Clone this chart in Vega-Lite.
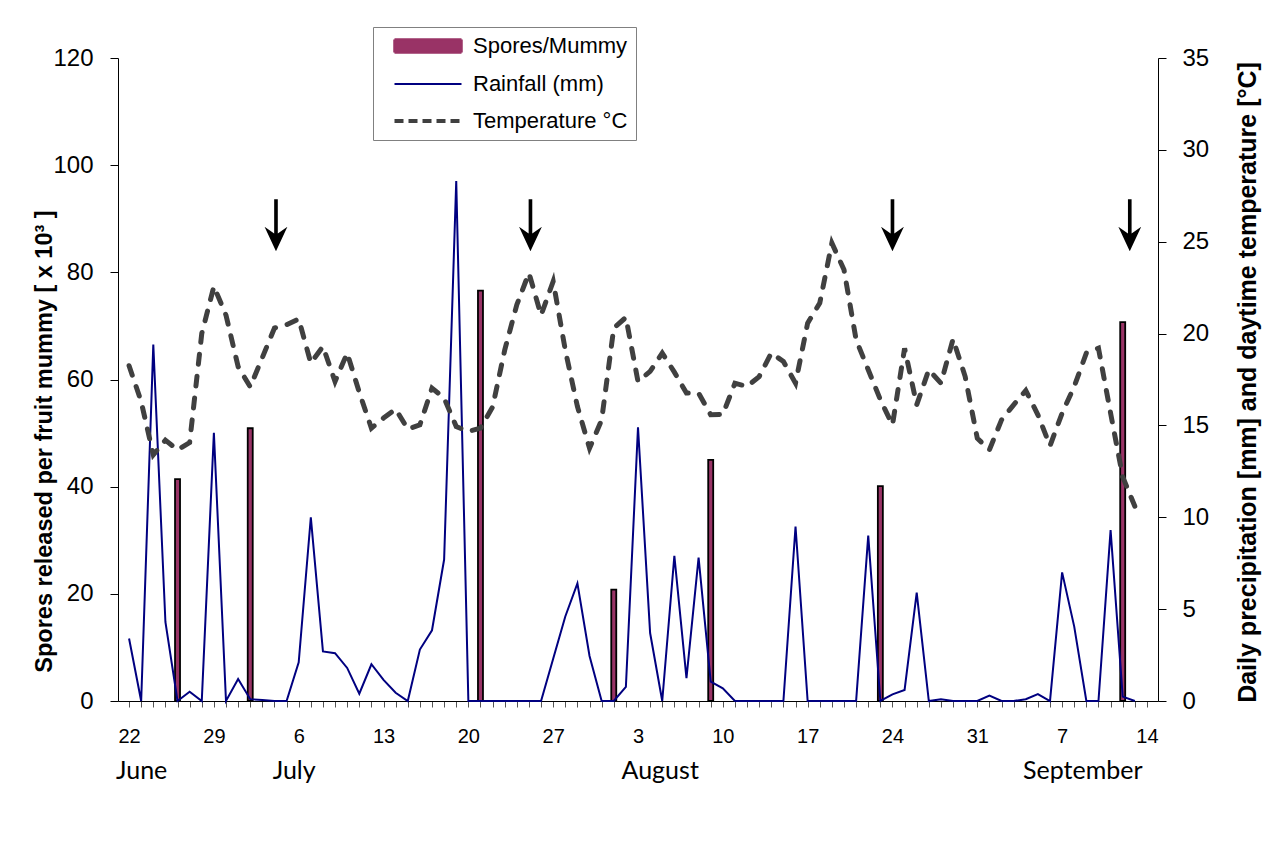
{
  "$schema": "https://vega.github.io/schema/vega-lite/v6.json",
  "width": 1040,
  "height": 643,
  "autosize": {"type": "none"},
  "padding": {"left": 118, "top": 58, "right": 130, "bottom": 164},
  "background": "white",
  "config": {
    "view": {"stroke": null},
    "font": "Liberation Sans",
    "axis": {"grid": false, "domainColor": "#000000", "tickColor": "#000000", "labelColor": "#000000", "titleColor": "#000000", "domainWidth": 1, "tickWidth": 1}
  },
  "datasets": {
    "daily": [
      {"date": "2010-06-22", "rain": 3.4, "temp": 18.25},
      {"date": "2010-06-23", "rain": 0, "temp": 16.3},
      {"date": "2010-06-24", "rain": 19.4, "temp": 13.4},
      {"date": "2010-06-25", "rain": 4.3, "temp": 14.2},
      {"date": "2010-06-26", "rain": 0, "temp": 13.67},
      {"date": "2010-06-27", "rain": 0.5, "temp": 14.07},
      {"date": "2010-06-28", "rain": 0, "temp": 20.0},
      {"date": "2010-06-29", "rain": 14.6, "temp": 22.57},
      {"date": "2010-06-30", "rain": 0, "temp": 21.0},
      {"date": "2010-07-01", "rain": 1.2, "temp": 18.2},
      {"date": "2010-07-02", "rain": 0.1, "temp": 17.1},
      {"date": "2010-07-03", "rain": 0.05, "temp": 18.7},
      {"date": "2010-07-04", "rain": 0, "temp": 20.3},
      {"date": "2010-07-05", "rain": 0, "temp": 20.48},
      {"date": "2010-07-06", "rain": 2.1, "temp": 20.8},
      {"date": "2010-07-07", "rain": 10.0, "temp": 18.39},
      {"date": "2010-07-08", "rain": 2.7, "temp": 19.3},
      {"date": "2010-07-09", "rain": 2.6, "temp": 17.39},
      {"date": "2010-07-10", "rain": 1.8, "temp": 18.94},
      {"date": "2010-07-11", "rain": 0.4, "temp": 16.8},
      {"date": "2010-07-12", "rain": 2.0, "temp": 14.85},
      {"date": "2010-07-13", "rain": 1.15, "temp": 15.4},
      {"date": "2010-07-14", "rain": 0.45, "temp": 15.89},
      {"date": "2010-07-15", "rain": 0, "temp": 14.8},
      {"date": "2010-07-16", "rain": 2.8, "temp": 15.03},
      {"date": "2010-07-17", "rain": 3.85, "temp": 17.03},
      {"date": "2010-07-18", "rain": 7.7, "temp": 16.49},
      {"date": "2010-07-19", "rain": 28.3, "temp": 14.94},
      {"date": "2010-07-20", "rain": 0, "temp": 14.67},
      {"date": "2010-07-21", "rain": 0, "temp": 14.85},
      {"date": "2010-07-22", "rain": 0, "temp": 16.0},
      {"date": "2010-07-23", "rain": 0, "temp": 19.1},
      {"date": "2010-07-24", "rain": 0, "temp": 21.57},
      {"date": "2010-07-25", "rain": 0, "temp": 23.3},
      {"date": "2010-07-26", "rain": 0, "temp": 21.0},
      {"date": "2010-07-27", "rain": 2.3, "temp": 22.84},
      {"date": "2010-07-28", "rain": 4.6, "temp": 19.1},
      {"date": "2010-07-29", "rain": 6.4, "temp": 16.03},
      {"date": "2010-07-30", "rain": 2.45, "temp": 13.76},
      {"date": "2010-07-31", "rain": 0, "temp": 15.3},
      {"date": "2010-08-01", "rain": 0, "temp": 20.3},
      {"date": "2010-08-02", "rain": 0.77, "temp": 20.88},
      {"date": "2010-08-03", "rain": 14.9, "temp": 17.39},
      {"date": "2010-08-04", "rain": 3.7, "temp": 17.94},
      {"date": "2010-08-05", "rain": 0, "temp": 18.94},
      {"date": "2010-08-06", "rain": 7.9, "temp": 17.9},
      {"date": "2010-08-07", "rain": 1.24, "temp": 16.76},
      {"date": "2010-08-08", "rain": 7.8, "temp": 16.76},
      {"date": "2010-08-09", "rain": 1.05, "temp": 15.58},
      {"date": "2010-08-10", "rain": 0.69, "temp": 15.6},
      {"date": "2010-08-11", "rain": 0, "temp": 17.3},
      {"date": "2010-08-12", "rain": 0, "temp": 17.12},
      {"date": "2010-08-13", "rain": 0, "temp": 17.66},
      {"date": "2010-08-14", "rain": 0, "temp": 18.94},
      {"date": "2010-08-15", "rain": 0, "temp": 18.48},
      {"date": "2010-08-16", "rain": 9.5, "temp": 17.3},
      {"date": "2010-08-17", "rain": 0, "temp": 20.57},
      {"date": "2010-08-18", "rain": 0, "temp": 21.66},
      {"date": "2010-08-19", "rain": 0, "temp": 24.93},
      {"date": "2010-08-20", "rain": 0, "temp": 23.47},
      {"date": "2010-08-21", "rain": 0, "temp": 19.66},
      {"date": "2010-08-22", "rain": 9.0, "temp": 18.03},
      {"date": "2010-08-23", "rain": 0, "temp": 16.4},
      {"date": "2010-08-24", "rain": 0.36, "temp": 15.03},
      {"date": "2010-08-25", "rain": 0.6, "temp": 19.2},
      {"date": "2010-08-26", "rain": 5.9, "temp": 16.12},
      {"date": "2010-08-27", "rain": 0, "temp": 18.03},
      {"date": "2010-08-28", "rain": 0.1, "temp": 17.3},
      {"date": "2010-08-29", "rain": 0, "temp": 19.7},
      {"date": "2010-08-30", "rain": 0, "temp": 17.66},
      {"date": "2010-08-31", "rain": 0, "temp": 14.3},
      {"date": "2010-09-01", "rain": 0.29, "temp": 13.67},
      {"date": "2010-09-02", "rain": 0, "temp": 15.3},
      {"date": "2010-09-03", "rain": 0, "temp": 16.12},
      {"date": "2010-09-04", "rain": 0.1, "temp": 16.9},
      {"date": "2010-09-05", "rain": 0.38, "temp": 15.58},
      {"date": "2010-09-06", "rain": 0, "temp": 13.89},
      {"date": "2010-09-07", "rain": 7.0, "temp": 15.67},
      {"date": "2010-09-08", "rain": 4.05, "temp": 17.12},
      {"date": "2010-09-09", "rain": 0, "temp": 18.94},
      {"date": "2010-09-10", "rain": 0, "temp": 19.2},
      {"date": "2010-09-11", "rain": 9.3, "temp": 15.67},
      {"date": "2010-09-12", "rain": 0.24, "temp": 12.2},
      {"date": "2010-09-13", "rain": 0, "temp": 10.6}
    ],
    "spores": [
      {"date": "2010-06-26", "spores": 41.4},
      {"date": "2010-07-02", "spores": 50.9},
      {"date": "2010-07-21", "spores": 76.6},
      {"date": "2010-08-01", "spores": 20.8},
      {"date": "2010-08-09", "spores": 45.0},
      {"date": "2010-08-23", "spores": 40.1},
      {"date": "2010-09-12", "spores": 70.7}
    ],
    "arrows": [
      {"date": "2010-07-04T03:00:00Z"},
      {"date": "2010-07-25T03:00:00Z"},
      {"date": "2010-08-24T00:00:00Z"},
      {"date": "2010-09-12T14:00:00Z"}
    ]
  },
  "layer": [
    {
      "data": {"name": "spores"},
      "mark": {"type": "bar", "size": 5, "stroke": "#000000", "strokeWidth": 1.8},
      "encoding": {
        "x": {
          "field": "date", "type": "temporal",
          "scale": {"type": "utc", "domain": [{"year": 2010, "month": 6, "date": 21, "hours": 12, "utc": true}, {"year": 2010, "month": 9, "date": 14, "hours": 12, "utc": true}]},
          "axis": {
            "title": null, "orient": "bottom",
            "tickCount": {"interval": "day", "step": 1},
            "labelExpr": "(round((datum.value - utc(2010,5,22)) / 86400000) % 7 == 0) ? '' + utcdate(datum.value) : ''",
            "tickSize": 6, "tickColor": "#555555",
            "labelFont": "Liberation Sans", "labelFontSize": 20, "labelPadding": 19,
            "labelOverlap": false, "labelFlush": false, "labelBound": false
          }
        },
        "y": {
          "field": "spores", "type": "quantitative",
          "scale": {"domain": [0, 120], "nice": false},
          "axis": {
            "orient": "left", "values": [0, 20, 40, 60, 80, 100, 120],
            "title": "Spores released per fruit mummy  [ x 10³ ]",
            "titleFont": "Liberation Sans", "titleFontSize": 23.5, "titleFontWeight": "bold",
            "titleAngle": -90, "titleX": -74, "titleY": 383, "titleBaseline": "middle", "titleAlign": "center",
            "tickSize": 8, "labelPadding": 17, "labelFont": "Liberation Sans", "labelFontSize": 24
          }
        },
        "color": {
          "datum": "Spores/Mummy",
          "scale": {"domain": ["Spores/Mummy", "Rainfall (mm)", "Temperature °C"], "range": ["#993366", "#000080", "#404040"]},
          "legend": {
            "title": null, "orient": "none", "legendX": 255, "legendY": -31, "direction": "vertical",
            "padding": 8, "strokeColor": "#808080", "fillColor": "#ffffff",
            "labelFont": "Liberation Sans", "labelFontSize": 22, "labelColor": "#000000", "labelLimit": 400,
            "symbolSize": 400, "symbolOffset": 36, "labelOffset": 34, "rowPadding": 15,
            "symbolOpacity": 1,
            "symbolType": {"expr": "datum.value === 'Spores/Mummy' ? 'M-3.35,-0.65H3.35V0.65H-3.35Z' : 'M-3.35,0H3.35'"},
            "symbolStrokeWidth": {"expr": "datum.value === 'Spores/Mummy' ? 2.5 : datum.value === 'Rainfall (mm)' ? 2 : 4"},
            "symbolDash": {"expr": "datum.value === 'Temperature °C' ? [9, 5] : [1, 0]"},
            "symbolStrokeColor": {"expr": "datum.value === 'Spores/Mummy' ? '#000000' : datum.value === 'Rainfall (mm)' ? '#000080' : '#404040'"},
            "symbolFillColor": {"expr": "datum.value === 'Spores/Mummy' ? '#993366' : 'transparent'"}
          }
        }
      }
    },
    {
      "layer": [
        {
          "data": {"name": "daily"},
          "mark": {"type": "line", "strokeWidth": 2},
          "encoding": {
            "x": {
              "field": "date", "type": "temporal",
              "scale": {"type": "utc", "domain": [{"year": 2010, "month": 6, "date": 21, "hours": 12, "utc": true}, {"year": 2010, "month": 9, "date": 14, "hours": 12, "utc": true}]},
              "axis": {
                "title": null, "orient": "bottom",
                "values": [
                  {"year": 2010, "month": 6, "date": 23, "hours": 0, "utc": true},
                  {"year": 2010, "month": 7, "date": 5, "hours": 14, "utc": true},
                  {"year": 2010, "month": 8, "date": 4, "hours": 19, "utc": true},
                  {"year": 2010, "month": 9, "date": 8, "hours": 16, "utc": true}
                ],
                "labelExpr": "utcFormat(datum.value, '%B')",
                "ticks": false, "tickSize": 0, "domain": false,
                "labelFont": "Lato", "labelFontSize": 25, "labelBaseline": "alphabetic", "labelPadding": 77,
                "labelOverlap": false, "labelFlush": false, "labelBound": false
              }
            },
            "y": {
              "field": "rain", "type": "quantitative",
              "scale": {"domain": [0, 35], "nice": false},
              "axis": {
                "orient": "right", "values": [0, 5, 10, 15, 20, 25, 30, 35],
                "title": "Daily precipitation [mm]  and daytime temperature [°C]",
                "titleFont": "Liberation Sans", "titleFontSize": 25, "titleFontWeight": "bold",
                "titleAngle": -90, "titleX": 89, "titleY": 324, "titleBaseline": "middle", "titleAlign": "center",
                "tickSize": 8, "labelPadding": 16, "labelFont": "Liberation Sans", "labelFontSize": 24
              }
            },
            "color": {"datum": "Rainfall (mm)"}
          }
        },
        {
          "data": {"name": "daily"},
          "mark": {"type": "line", "strokeWidth": 5, "strokeDash": [10, 12], "strokeCap": "round"},
          "encoding": {
            "x": {"field": "date", "type": "temporal"},
            "y": {"field": "temp", "type": "quantitative"},
            "color": {"datum": "Temperature °C"}
          }
        },
        {
          "data": {"name": "arrows"},
          "mark": {"type": "point", "shape": "M-0.07,-1L0.07,-1L0.07,0.32L0.44,0.06L0,1L-0.44,0.06L-0.07,0.32Z", "filled": true, "color": "#000000", "size": 2700, "opacity": 1},
          "encoding": {
            "x": {"field": "date", "type": "temporal"},
            "y": {"datum": 25.9, "type": "quantitative"}
          }
        }
      ]
    }
  ],
  "resolve": {"scale": {"y": "independent"}, "axis": {"x": "independent", "y": "independent"}}
}
